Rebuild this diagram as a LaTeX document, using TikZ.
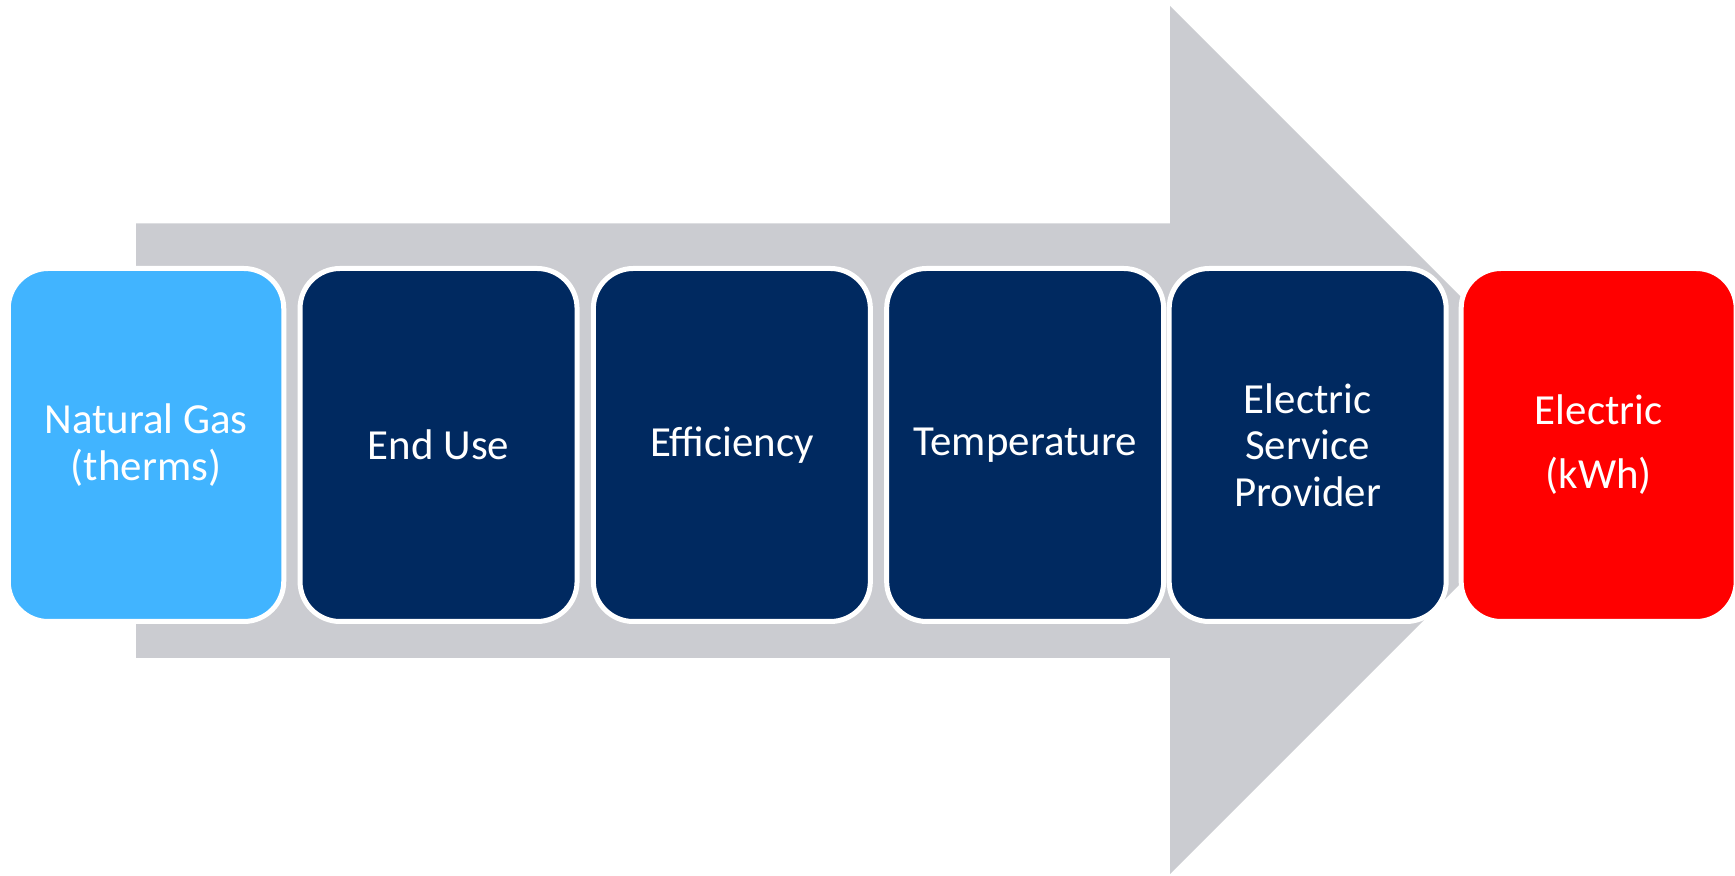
\documentclass[tikz,border=0pt]{standalone}
\usepackage{fontspec}
\setmainfont{Carlito}
\usetikzlibrary{positioning}

\definecolor{arrowgray}{HTML}{CBCCD1}
\definecolor{gasblue}{HTML}{41B4FF}
\definecolor{stepnavy}{HTML}{002960}
\definecolor{elecred}{HTML}{FF0000}

\begin{document}
\begin{tikzpicture}[
				font=\fontsize{12.2pt}{13.2pt}\selectfont,
				card/.style={
					draw=white,
					line width=0.05cm,
					rounded corners=0.4cm,
					text=white,
					minimum width=2.77cm,
					minimum height=3.53cm,
					align=center
				},
				source/.style={
					card,
					fill=gasblue,
					minimum width=2.755cm
				},
				factor/.style={
					card,
					fill=stepnavy
				},
				target/.style={
					card,
					fill=elecred,
					minimum width=2.75cm
				}
				]

				\useasboundingbox (0,0) rectangle (17.35,-8.76);

				%------------------------------------------------
				% BIG ARROW (background)
				%------------------------------------------------

				\coordinate (tail top) at (1.36,-2.235);
				\coordinate (tail bottom) at (1.36,-6.58);
				\coordinate (head top) at (11.70,-0.06);
				\coordinate (head bottom) at (11.70,-8.74);
				\coordinate (tip) at (16.04,-4.40);

				\fill[arrowgray]
				(tail top)
				-- (tail top -| head top)
				-- (head top)
				-- (tip)
				-- (head bottom)
				-- (tail bottom -| head bottom)
				-- (tail bottom)
				-- cycle;

				%------------------------------------------------
				% BOXES
				%------------------------------------------------

				\node[source] (gas) at (1.46,-4.45) {Natural Gas\\(therms)};

				\node[
				factor,
				right=0.113cm of gas
				] (enduse) {End Use};

				\node[
				factor,
				right=0.113cm of enduse
				] (effic) {Efficiency};

				\node[
				factor,
				right=0.113cm of effic
				] (temp) {Temperature};

				\node[
				factor,
				right=0.005cm of temp
				] (provider) {Electric\\Service\\Provider};

				\node[
				target,
				right=0.1cm of provider
				] (elec) {Electric\\[5pt](kWh)};

			\end{tikzpicture}
\end{document}
